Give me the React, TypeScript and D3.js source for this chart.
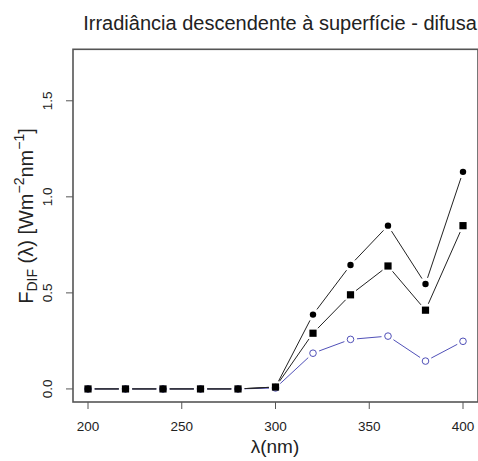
import React from 'react';
import * as d3 from 'd3';

// wavelength (nm) and the three irradiance series
const lambda = [200, 220, 240, 260, 280, 300, 320, 340, 360, 380, 400];
const fdifCircles = [0, 0, 0, 0, 0, 0.01, 0.387, 0.645, 0.85, 0.546, 1.13];
const fdifSquares = [0, 0, 0, 0, 0, 0.01, 0.29, 0.49, 0.64, 0.41, 0.85];
const fdifBlue = [0, 0, 0, 0, 0, 0.005, 0.186, 0.258, 0.275, 0.145, 0.248];
const xTicks = [200, 250, 300, 350, 400];
const yTicks = [0, 0.5, 1.0, 1.5];

const W = 478;
const H = 461;
const FONT = '"Liberation Sans", Arial, Helvetica, sans-serif';

const App = () => {
    // R style 4% padding on both axes
    const x = d3.scaleLinear().domain([192, 408]).range([73, 478]);
    const y = d3.scaleLinear().domain([-0.068, 1.768]).range([402, 49.3]);

    const left = x.range()[0];
    const right = x.range()[1];
    const top = y.range()[1];
    const bottom = y.range()[0];

    // type="b": segments between points, with a gap around each point
    const gapSegments = (vals: number[], gap: number) => {
        const segs: [number, number, number, number][] = [];
        for (let i = 0; i < vals.length - 1; i++) {
            const x0 = x(lambda[i]), y0 = y(vals[i]);
            const x1 = x(lambda[i + 1]), y1 = y(vals[i + 1]);
            const len = Math.hypot(x1 - x0, y1 - y0);
            if (len <= gap * 2) continue;
            const ux = (x1 - x0) / len, uy = (y1 - y0) / len;
            segs.push([x0 + ux * gap, y0 + uy * gap, x1 - ux * gap, y1 - uy * gap]);
        }
        return segs;
    };

    const blueCol = '#5050b8';
    const lineCol = '#222';

    return (
        <svg width={W} height={H} style={{ position: 'absolute', left: 0, top: 0, background: '#fff' }}
            fontFamily={FONT}>
            <text x={280} y={30} textAnchor="middle" fontSize={20} fill="#222">
                Irradiância descendente à superfície - difusa
            </text>

            {/* series: blue open circles */}
            {gapSegments(fdifBlue, 6.5).map((s, i) => (
                <line key={'b' + i} x1={s[0]} y1={s[1]} x2={s[2]} y2={s[3]} stroke={blueCol} strokeWidth={1} />
            ))}
            {fdifBlue.map((v, i) => (
                <circle key={'bc' + i} cx={x(lambda[i])} cy={y(v)} r={3.3} fill="none" stroke={blueCol} strokeWidth={1} />
            ))}

            {/* filled circles */}
            {gapSegments(fdifCircles, 6.5).map((s, i) => (
                <line key={'c' + i} x1={s[0]} y1={s[1]} x2={s[2]} y2={s[3]} stroke={lineCol} strokeWidth={1} />
            ))}
            {fdifCircles.map((v, i) => (
                <circle key={'cc' + i} cx={x(lambda[i])} cy={y(v)} r={3.2} fill="#000" />
            ))}

            {/* filled squares */}
            {gapSegments(fdifSquares, 7).map((s, i) => (
                <line key={'s' + i} x1={s[0]} y1={s[1]} x2={s[2]} y2={s[3]} stroke={lineCol} strokeWidth={1} />
            ))}
            {fdifSquares.map((v, i) => (
                <rect key={'sq' + i} x={x(lambda[i]) - 3.6} y={y(v) - 3.6} width={7.2} height={7.2} fill="#000" />
            ))}

            {/* box */}
            <rect x={left} y={top} width={right - left} height={bottom - top} fill="none" stroke="#555" strokeWidth={1.6} />

            {/* x axis */}
            {xTicks.map(t => (
                <g key={'xt' + t}>
                    <line x1={x(t)} x2={x(t)} y1={bottom} y2={bottom + 7} stroke="#555" strokeWidth={1} />
                    <text x={x(t)} y={431} textAnchor="middle" fontSize={13.5} fill="#222">{t}</text>
                </g>
            ))}
            <text x={275} y={453} textAnchor="middle" fontSize={19} fill="#222">λ(nm)</text>

            {/* y axis */}
            {yTicks.map(t => (
                <g key={'yt' + t}>
                    <line x1={left} x2={left - 7} y1={y(t)} y2={y(t)} stroke="#555" strokeWidth={1} />
                    <text transform={`translate(52,${y(t)}) rotate(-90)`} textAnchor="middle" fontSize={13.5} fill="#222">
                        {d3.format('.1f')(t)}
                    </text>
                </g>
            ))}
            <text transform={`translate(33,216) rotate(-90)`} textAnchor="middle" fontSize={20} fill="#222">
                <tspan>F</tspan>
                <tspan fontSize={14} dy={4}>DIF</tspan>
                <tspan dy={-4}> (λ) [Wm</tspan>
                <tspan fontSize={14} dy={-9}>−2</tspan>
                <tspan dy={9}>nm</tspan>
                <tspan fontSize={14} dy={-9}>−1</tspan>
                <tspan dy={9}>]</tspan>
            </text>
        </svg>
    );
};

export default App;
